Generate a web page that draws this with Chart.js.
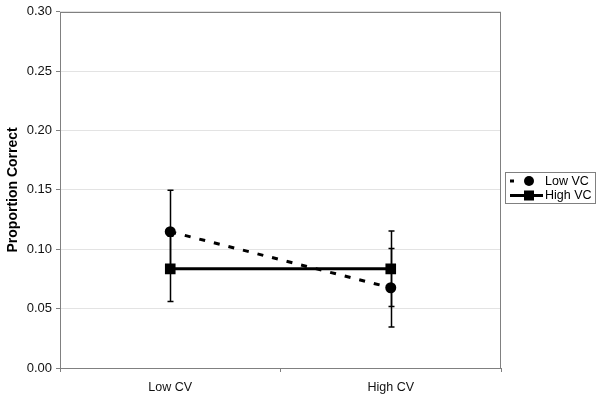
<!DOCTYPE html>
<html>
<head>
<meta charset="utf-8">
<script src="https://cdn.jsdelivr.net/npm/chart.js@4.4.1/dist/chart.umd.min.js"></script>
<style>
	html, body { margin: 0; padding: 0; background: #fff; }
	#wrap { width: 600px; height: 397px; }
</style>
</head>
<body>
<div id="wrap"><canvas id="chart" width="600" height="397"></canvas></div>
<script>
'use strict';

// values
const categories = ['Low CV', 'High CV'];
const seriesLabels = ['Low VC', 'High VC'];
const lowVc = [0.1148, 0.0676];
const lowVcErr = [0.0349, 0.0330];
const highVc = [0.0835, 0.0835];
const highVcErr = [0.0274, 0.0318];
const yTicks = [0, 0.05, 0.10, 0.15, 0.20, 0.25, 0.30];

const FONT = 'Arial, "Liberation Sans", sans-serif';

// frame round the plot area
const framePlugin = {
	id: 'frame',
	beforeDatasetsDraw: chart => {
		const { ctx, chartArea: a } = chart;
		ctx.save();
		ctx.strokeStyle = '#808080';
		ctx.lineWidth = 1;
		ctx.strokeRect(Math.round(a.left) + 0.5, Math.round(a.top) + 0.5,
			Math.round(a.right - a.left) - 1, Math.round(a.bottom - a.top));
		ctx.restore();
	}
};

// vertical error bars, drawn under the markers
const errorBarPlugin = {
	id: 'errorBars',
	beforeDatasetsDraw: chart => {
		const { ctx } = chart;
		const y = chart.scales.y;
		ctx.save();
		ctx.strokeStyle = '#000';
		ctx.lineWidth = 1.5;
		chart.data.datasets.forEach((ds, i) => {
			const meta = chart.getDatasetMeta(i);
			meta.data.forEach((pt, j) => {
				const v = ds.data[j], e = ds.errors[j];
				const x = Math.round(pt.x) + 0.5;
				const yHi = y.getPixelForValue(v + e);
				const yLo = y.getPixelForValue(v - e);
				ctx.beginPath();
				ctx.moveTo(x, yHi); ctx.lineTo(x, yLo);
				ctx.moveTo(x - 3, yHi); ctx.lineTo(x + 3, yHi);
				ctx.moveTo(x - 3, yLo); ctx.lineTo(x + 3, yLo);
				ctx.stroke();
			});
		});
		ctx.restore();
	}
};

// boxed legend on the right, like the original
const boxLegendPlugin = {
	id: 'boxLegend',
	afterDraw: chart => {
		const { ctx } = chart;
		const box = { x: 505, y: 172, w: 90, h: 31 };
		ctx.save();
		ctx.strokeStyle = '#808080';
		ctx.lineWidth = 1;
		ctx.strokeRect(box.x + 0.5, box.y + 0.5, box.w, box.h);

		chart.data.datasets.forEach((ds, i) => {
			const cy = box.y + 9 + i * 14.5;
			ctx.strokeStyle = '#000';
			ctx.lineWidth = ds.borderWidth;
			ctx.beginPath();
			if (ds.borderDash) {
				// only one dash shows before the marker
				ctx.moveTo(510, cy); ctx.lineTo(514, cy);
			} else {
				ctx.moveTo(510, cy); ctx.lineTo(543, cy);
			}
			ctx.stroke();

			ctx.fillStyle = '#000';
			if (ds.pointStyle === 'rect') {
				ctx.fillRect(524, cy - 5, 10, 10);
			} else {
				ctx.beginPath();
				ctx.arc(529, cy, 5, 0, Math.PI * 2);
				ctx.fill();
			}

			ctx.font = '12.5px ' + FONT;
			ctx.textBaseline = 'middle';
			ctx.textAlign = 'left';
			ctx.fillText(ds.label, 545, cy + 0.5);
		});
		ctx.restore();
	}
};

new Chart(document.getElementById('chart').getContext('2d'), {
	type: 'line',
	data: {
		labels: categories,
		datasets: [
			{
				label: seriesLabels[0],
				data: lowVc,
				errors: lowVcErr,
				borderColor: '#000',
				backgroundColor: '#000',
				borderWidth: 3,
				borderDash: [6, 9],
				pointStyle: 'circle',
				pointRadius: 5.5,
				pointBorderWidth: 0,
				pointHoverRadius: 5.5
			},
			{
				label: seriesLabels[1],
				data: highVc,
				errors: highVcErr,
				borderColor: '#000',
				backgroundColor: '#000',
				borderWidth: 3,
				pointStyle: 'rect',
				pointRadius: 7.5,
				pointBorderWidth: 0,
				pointHoverRadius: 7.5
			}
		]
	},
	options: {
		responsive: false,
		animation: false,
		layout: { padding: { top: 10, right: 99, left: 0, bottom: 0 } },
		plugins: {
			legend: { display: false },
			tooltip: { enabled: false }
		},
		scales: {
			x: {
				type: 'category',
				offset: true,
				afterFit: s => { s.height = 29; },
				grid: {
					offset: true,
					drawOnChartArea: false,
					color: '#808080',
					tickLength: 4
				},
				border: { display: false },
				ticks: {
					color: '#111',
					padding: 8,
					font: { family: FONT, size: 12.5 }
				}
			},
			y: {
				min: 0,
				max: 0.3,
				afterFit: s => { s.width = 60; },
				afterBuildTicks: s => { s.ticks = yTicks.map(v => ({ value: v })); },
				grid: {
					color: '#e3e3e3',
					tickColor: '#808080',
					tickLength: 4
				},
				border: { display: false },
				ticks: {
					color: '#111',
					padding: 4,
					font: { family: FONT, size: 13 },
					callback: v => v.toFixed(2)
				},
				title: {
					display: true,
					text: 'Proportion Correct',
					color: '#000',
					padding: { top: 5, bottom: 4 },
					font: { family: FONT, size: 14, weight: 'bold' }
				}
			}
		}
	},
	plugins: [framePlugin, errorBarPlugin, boxLegendPlugin]
});
</script>
</body>
</html>
